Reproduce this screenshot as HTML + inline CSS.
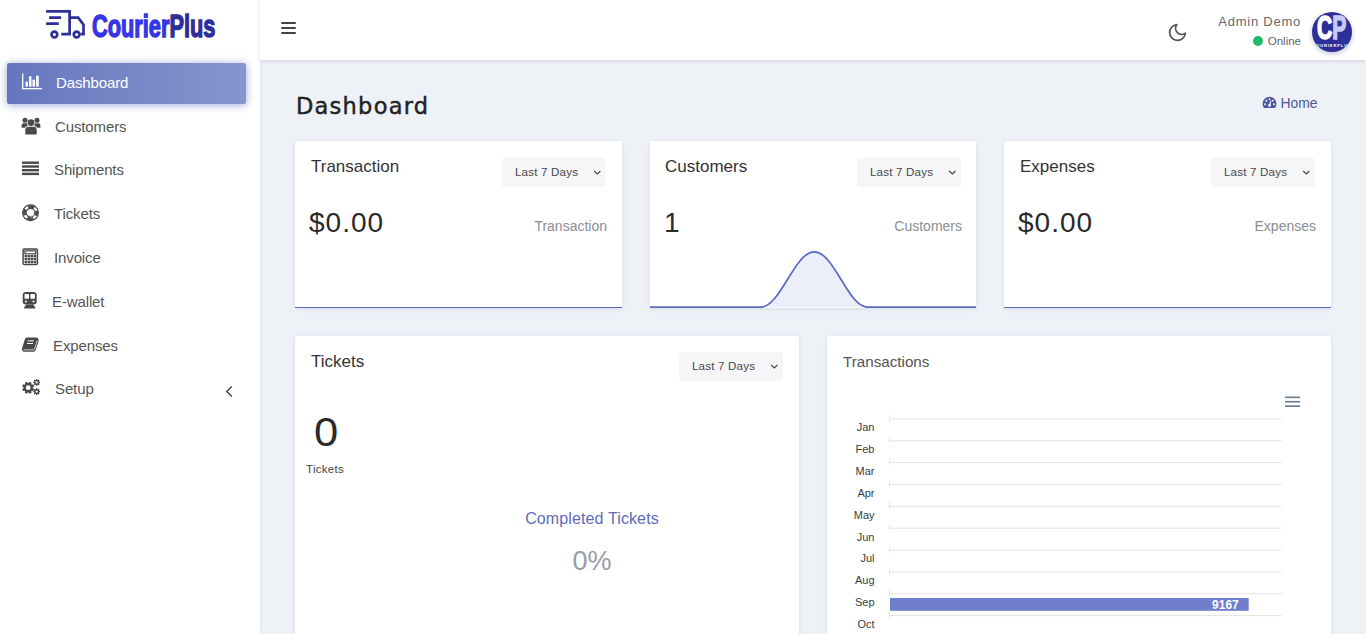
<!DOCTYPE html>
<html lang="en">
<head>
<meta charset="utf-8">
<title>Dashboard - CourierPlus</title>
<style>
*{box-sizing:border-box;margin:0;padding:0}
html,body{width:1366px;height:634px;overflow:hidden}
body{background:#eef1f6;font-family:"Liberation Sans",Arial,sans-serif;color:#333;position:relative}
.abs{position:absolute}
/* sidebar */
#sidebar{position:absolute;left:0;top:0;width:260px;height:634px;background:#fff;box-shadow:0 0 4px rgba(100,105,130,.14)}
#logo-text{position:absolute;left:91.5px;top:6.3px;font-weight:bold;font-size:32px;line-height:40px;white-space:nowrap;transform-origin:0 0;transform:scaleX(.68);color:#3535e6;-webkit-text-stroke:1.4px #3535e6}
#logo-text b{color:#2e2e99;-webkit-text-stroke:1.4px #2e2e99}
.mi{position:absolute;left:0;width:260px;height:40px;font-size:15px;letter-spacing:-.12px;color:#555;line-height:40px}
.mi span{position:absolute;top:0;white-space:nowrap}
.mi svg{position:absolute}
#active{position:absolute;left:7px;top:63px;width:239px;height:41px;border-radius:2px;background:linear-gradient(90deg,#6576bf 0%,#8796cc 100%);box-shadow:0 1px 8px rgba(92,107,192,.6)}
/* header */
#header{position:absolute;left:260px;top:0;width:1106px;height:60px;background:#fff;box-shadow:0 1px 4px rgba(100,105,125,.22)}
.bar{position:absolute;left:21px;width:15px;height:2px;background:#444;border-radius:1px}
/* cards */
.card{position:absolute;background:#fff;border-radius:3px;box-shadow:0 1px 4px rgba(110,115,140,.16)}
.ctitle{position:absolute;font-size:17px;color:#333;white-space:nowrap}
.sel{position:absolute;width:104px;height:29px;background:#f6f6f9;border-radius:3px;font-size:11.6px;letter-spacing:.18px;color:#484848;line-height:28.6px;padding-left:13.3px;white-space:nowrap;margin-left:.7px;margin-top:.5px}
.big{position:absolute;font-size:28px;color:#2a2a2a;white-space:nowrap;letter-spacing:1px}
.rl{position:absolute;font-size:14px;color:#8b8d96;white-space:nowrap;text-align:right}
.line{position:absolute;left:0;bottom:0;width:100%;height:1.4px;background:#5f69bd}
</style>
</head>
<body>

<div id="sidebar">
  <svg class="abs" style="left:46px;top:10px" width="40" height="30" viewBox="0 0 40 30" fill="none" stroke="#2e2e99" stroke-width="2.7">
    <path d="M.1 1.45H23.6V24.2H15.3"/>
    <path d="M3.1 7.6H15.1M.1 13.7H12.8"/>
    <path d="M23.6 7.7H32.2L37.5 14.7V24.2H34.6"/>
    <circle cx="8.4" cy="24.5" r="2.85"/>
    <circle cx="30.6" cy="24.5" r="2.85"/>
  </svg>
  <div id="logo-text">Courier<b>Plus</b></div>

  <div id="active"></div>

  <!-- menu icons -->
  <svg class="abs" style="left:22px;top:73px" width="21" height="17" viewBox="0 0 21 17">
    <path d="M.7 .5V15.6H20" fill="none" stroke="#fff" stroke-width="1.3"/>
    <rect x="3.5" y="8.6" width="2.4" height="5" fill="#fff"/><rect x="7" y="3.3" width="2.5" height="10.3" fill="#fff"/>
    <rect x="10.5" y="6.7" width="2.5" height="6.9" fill="#fff"/><rect x="14.1" y="2.7" width="2.6" height="10.9" fill="#fff"/>
  </svg>
  <svg class="abs" style="left:21px;top:117px" width="20" height="18" viewBox="0 0 20 18" fill="#4a4a4a">
    <circle cx="10" cy="5.6" r="3.4"/><path d="M4.3 17.3V13.2Q4.3 9.8 7.5 9.8H12.5Q15.7 9.8 15.7 13.2V17.3Q15.7 17.5 15 17.5H5Q4.3 17.5 4.3 17.3Z"/>
    <circle cx="4" cy="3.3" r="2.5"/><path d="M.6 10.6V8.4Q.6 6.3 2.6 6.3H5.6Q6.2 6.4 6.3 7.2Q6.4 8.6 7 9.1Q4.4 9.3 3.9 10.8H.9Q.6 10.8 .6 10.6Z"/>
    <circle cx="16" cy="3.3" r="2.5"/><path d="M19.4 10.6V8.4Q19.4 6.3 17.4 6.3H14.4Q13.8 6.4 13.7 7.2Q13.6 8.6 13 9.1Q15.6 9.3 16.1 10.8H19.1Q19.4 10.8 19.4 10.6Z"/>
  </svg>
  <svg class="abs" style="left:22px;top:161px" width="18" height="15" viewBox="0 0 18 15" fill="#484848">
    <rect x="0" y=".5" width="17" height="2.4"/><rect x="0" y="4.3" width="17" height="2.4"/><rect x="0" y="8" width="17" height="2.4"/><rect x="0" y="11.7" width="17" height="2.4"/>
  </svg>
  <svg class="abs" style="left:21px;top:203px" width="19" height="19" viewBox="0 0 19 19" fill="none" stroke="#484848">
    <circle cx="9.5" cy="9.7" r="7.9" stroke-width="1.2"/><circle cx="9.5" cy="9.7" r="4.3" stroke-width="1.1"/>
    <circle cx="9.5" cy="9.7" r="6.1" stroke-width="2.8" stroke-dasharray="6.2 3.382" stroke-dashoffset="3.1"/>
  </svg>
  <svg class="abs" style="left:22px;top:248px" width="17" height="18" viewBox="0 0 17 18">
    <rect x="1.1" y="1" width="14.3" height="15.4" rx="1.2" fill="none" stroke="#484848" stroke-width="1.5"/>
    <rect x="2.9" y="2.8" width="10.7" height="3" fill="none" stroke="#484848" stroke-width="1.2"/>
    <g fill="#484848"><rect x="2.6" y="7.0" width="2.5" height="2.3"/><rect x="5.6" y="7.0" width="2.5" height="2.3"/><rect x="8.6" y="7.0" width="2.5" height="2.3"/><rect x="11.6" y="7.0" width="2.5" height="2.3"/><rect x="2.6" y="9.9" width="2.5" height="2.3"/><rect x="5.6" y="9.9" width="2.5" height="2.3"/><rect x="8.6" y="9.9" width="2.5" height="2.3"/><rect x="11.6" y="9.9" width="2.5" height="2.3"/><rect x="2.6" y="12.8" width="2.5" height="2.3"/><rect x="5.6" y="12.8" width="2.5" height="2.3"/><rect x="8.6" y="12.8" width="2.5" height="2.3"/><rect x="11.6" y="12.8" width="2.5" height="2.3"/></g>
  </svg>
  <svg class="abs" style="left:22px;top:291px" width="16" height="19" viewBox="0 0 16 19">
    <path d="M.7 4.3Q.7 1 4 1H11.4Q14.7 1 14.7 4.3V10.6Q14.7 13.6 11.6 13.6H3.8Q.7 13.6 .7 10.6Z" fill="#484848"/>
    <rect x="2.5" y="3.1" width="4.5" height="4.6" rx=".6" fill="#fff"/><rect x="8.4" y="3.1" width="4.5" height="4.6" rx=".6" fill="#fff"/>
    <circle cx="3.9" cy="10.6" r="1" fill="#fff"/><circle cx="11.5" cy="10.6" r="1" fill="#fff"/>
    <path d="M4.2 13.5L2.3 16.3V17.6H13.1V16.3L11.2 13.5Z" fill="#484848"/>
  </svg>
  <svg class="abs" style="left:21px;top:337px" width="19" height="16" viewBox="0 0 19 16">
    <path d="M5.9 .6H15.4Q17 .6 17.5 2.2Q17.9 3.2 17.5 4.4L14.6 13.3Q14.2 14.7 12.7 14.7H3.4Q.5 14.7 1 11.6L3.9 2.2Q4.4 .6 5.9 .6Z" fill="#484848"/>
    <path d="M2.6 12.6Q3 12.9 3.6 12.9H12.4Q13.2 12.9 13.5 12L16.3 3.6" fill="none" stroke="#fff" stroke-width=".75"/>
    <path d="M6.7 3.9H13M6 6.5H12.1" stroke="#fff" stroke-width="1"/>
  </svg>
  <svg class="abs" style="left:22px;top:379px" width="19" height="17" viewBox="0 0 19 17">
    <path fill="#484848" fill-rule="evenodd" d="M10.88 9.18 L12.18 9.89 L11.27 12.09 L9.84 11.67 L9.17 12.34 L9.59 13.77 L7.39 14.68 L6.68 13.38 L5.72 13.38 L5.01 14.68 L2.81 13.77 L3.23 12.34 L2.56 11.67 L1.13 12.09 L0.22 9.89 L1.52 9.18 L1.52 8.22 L0.22 7.51 L1.13 5.31 L2.56 5.73 L3.23 5.06 L2.81 3.63 L5.01 2.72 L5.72 4.02 L6.68 4.02 L7.39 2.72 L9.59 3.63 L9.17 5.06 L9.84 5.73 L11.27 5.31 L12.18 7.51 L10.88 8.22Z M3.80 8.70 a2.40 2.40 0 1 0 4.80 0 a2.40 2.40 0 1 0 -4.80 0Z"/>
    <path fill="#484848" fill-rule="evenodd" d="M17.14 2.67 L18.13 2.72 L18.13 4.08 L17.14 4.13 L16.94 4.61 L17.61 5.34 L16.64 6.31 L15.91 5.64 L15.43 5.84 L15.38 6.83 L14.02 6.83 L13.97 5.84 L13.49 5.64 L12.76 6.31 L11.79 5.34 L12.46 4.61 L12.26 4.13 L11.27 4.08 L11.27 2.72 L12.26 2.67 L12.46 2.19 L11.79 1.46 L12.76 0.49 L13.49 1.16 L13.97 0.96 L14.02 -0.03 L15.38 -0.03 L15.43 0.96 L15.91 1.16 L16.64 0.49 L17.61 1.46 L16.94 2.19Z M13.55 3.40 a1.15 1.15 0 1 0 2.30 0 a1.15 1.15 0 1 0 -2.30 0Z"/>
    <path fill="#484848" fill-rule="evenodd" d="M17.14 11.87 L18.13 11.92 L18.13 13.28 L17.14 13.33 L16.94 13.81 L17.61 14.54 L16.64 15.51 L15.91 14.84 L15.43 15.04 L15.38 16.03 L14.02 16.03 L13.97 15.04 L13.49 14.84 L12.76 15.51 L11.79 14.54 L12.46 13.81 L12.26 13.33 L11.27 13.28 L11.27 11.92 L12.26 11.87 L12.46 11.39 L11.79 10.66 L12.76 9.69 L13.49 10.36 L13.97 10.16 L14.02 9.17 L15.38 9.17 L15.43 10.16 L15.91 10.36 L16.64 9.69 L17.61 10.66 L16.94 11.39Z M13.55 12.60 a1.15 1.15 0 1 0 2.30 0 a1.15 1.15 0 1 0 -2.30 0Z"/>
  </svg>
  <svg class="abs" style="left:225px;top:385px" width="9" height="13" viewBox="0 0 9 13" fill="none" stroke="#444" stroke-width="1.5"><path d="M6.8 1.5L1.8 6.5L6.8 11.5"/></svg>
  <div class="mi" style="top:63px;color:#fff"><span style="left:56px">Dashboard</span></div>
  <div class="mi" style="top:107px"><span style="left:55px">Customers</span></div>
  <div class="mi" style="top:150px"><span style="left:54px">Shipments</span></div>
  <div class="mi" style="top:194px"><span style="left:54px">Tickets</span></div>
  <div class="mi" style="top:238px"><span style="left:54px">Invoice</span></div>
  <div class="mi" style="top:282px"><span style="left:52px">E-wallet</span></div>
  <div class="mi" style="top:326px"><span style="left:53px">Expenses</span></div>
  <div class="mi" style="top:369px"><span style="left:55px">Setup</span></div>
</div>

<div id="header">
  <div class="bar" style="top:22px"></div>
  <div class="bar" style="top:27px"></div>
  <div class="bar" style="top:32px"></div>

  <svg class="abs" style="left:907px;top:21.5px" width="21" height="21" viewBox="0 0 24 24" fill="none" stroke="#555" stroke-width="2" stroke-linecap="round" stroke-linejoin="round"><path d="M21 12.79A9 9 0 1 1 11.21 3 7 7 0 0 0 21 12.79z"/></svg>
  <div class="abs" style="right:65px;top:13px;font-size:13px;letter-spacing:.75px;color:#666;white-space:nowrap;line-height:18px">Admin Demo</div>
  <div class="abs" style="left:993px;top:36px;width:10px;height:10px;border-radius:50%;background:#22b96c"></div>
  <div class="abs" style="right:65px;top:33px;font-size:11.5px;color:#666;white-space:nowrap;line-height:16px">Online</div>
  <div id="avatar" class="abs" style="left:1052px;top:12px;width:40px;height:40px;border-radius:50%;background:#2e2e99;overflow:hidden;box-shadow:0 2px 5px rgba(60,60,120,.3)">
    <div class="abs" style="left:5px;top:-2px;font-weight:bold;font-size:33px;line-height:36px;white-space:nowrap;transform-origin:0 0;transform:scaleX(.64);color:#fff;-webkit-text-stroke:1.6px #fff">C<span style="color:#c9c9f7;-webkit-text-stroke:1.6px #c9c9f7">P</span></div>
    <div class="abs" style="left:0px;top:30.5px;width:40px;text-align:center;font-weight:bold;font-size:4px;line-height:6px;letter-spacing:.9px;color:#fff;white-space:nowrap">COURIERPLUS</div>
  </div>
</div>

<div id="h1" class="abs" style="left:296px;top:91.2px;font-family:'DejaVu Sans','Liberation Sans',sans-serif;font-size:22.5px;letter-spacing:1.25px;color:#222;-webkit-text-stroke:.45px #222;white-space:nowrap;line-height:30px">Dashboard</div>


<svg class="abs" style="left:1262px;top:96px" width="15" height="13" viewBox="0 0 15 13"><path d="M7.5 .8A6.9 6.9 0 0 0 .6 7.7Q.6 9.9 1.7 11.6Q1.9 11.9 2.3 11.9H12.7Q13.1 11.9 13.3 11.6Q14.4 9.9 14.4 7.7A6.9 6.9 0 0 0 7.5 .8Z" fill="#4f5ba0"/><g fill="#eef1f6"><circle cx="3" cy="8.2" r=".95"/><circle cx="4.3" cy="4.7" r=".95"/><circle cx="7.5" cy="3.2" r=".95"/><circle cx="10.7" cy="4.7" r=".95"/><circle cx="12" cy="8.2" r=".95"/><circle cx="7.5" cy="9.3" r="1.5"/><path d="M6.9 9L8.6 4.6L9.4 4.9L8.1 9.4Z"/></g></svg>
<div class="abs" style="left:1280.4px;top:93.8px;font-size:13.9px;color:#4c5694;white-space:nowrap;line-height:18px">Home</div>

<!-- row 1 -->
<div class="card" style="left:295px;top:141px;width:327px;height:167px">
  <div class="ctitle" style="left:16px;top:16px">Transaction</div>
  <div class="sel" style="left:206px;top:16px">Last 7 Days<svg class="abs" style="left:91px;top:12.3px" width="9" height="6" viewBox="0 0 9 6" fill="none" stroke="#444" stroke-width="1.15"><path d="M1.2 1L4.3 4L7.4 1"/></svg></div>
  <div class="big" style="left:14px;top:66px">$0.00</div>
  <div class="rl" style="right:15px;top:77px">Transaction</div>
  <div class="line"></div>
</div>
<div class="card" style="left:650px;top:141px;width:326px;height:167px">
  <div class="ctitle" style="left:15px;top:16px">Customers</div>
  <div class="sel" style="left:206px;top:16px">Last 7 Days<svg class="abs" style="left:91px;top:12.3px" width="9" height="6" viewBox="0 0 9 6" fill="none" stroke="#444" stroke-width="1.15"><path d="M1.2 1L4.3 4L7.4 1"/></svg></div>
  <div class="big" style="left:14px;top:66px">1</div>
  <div class="rl" style="right:14px;top:77px">Customers</div>
  <svg class="abs" style="left:0;top:0" width="326" height="167" viewBox="0 0 326 167"><path d="M110.6 166.2C130.5 166.2 144.4 110.8 164.3 110.8C184.2 110.8 197.9 166.2 217.8 166.2Z" fill="#eceefa"/><path d="M0 166.2L110.6 166.2C130.5 166.2 144.4 110.8 164.3 110.8C184.2 110.8 197.9 166.2 217.8 166.2H326" fill="none" stroke="#5c6bc0" stroke-width="1.75"/></svg>
</div>
<div class="card" style="left:1004px;top:141px;width:327px;height:167px">
  <div class="ctitle" style="left:16px;top:16px">Expenses</div>
  <div class="sel" style="left:206px;top:16px">Last 7 Days<svg class="abs" style="left:91px;top:12.3px" width="9" height="6" viewBox="0 0 9 6" fill="none" stroke="#444" stroke-width="1.15"><path d="M1.2 1L4.3 4L7.4 1"/></svg></div>
  <div class="big" style="left:14px;top:66px">$0.00</div>
  <div class="rl" style="right:15px;top:77px">Expenses</div>
  <div class="line"></div>
</div>

<!-- row 2 -->
<div class="card" style="left:295px;top:336px;width:504px;height:320px">
  <div class="ctitle" style="left:16px;top:15.5px">Tickets</div>
  <div class="sel" style="left:383px;top:15px">Last 7 Days<svg class="abs" style="left:91px;top:12.3px" width="9" height="6" viewBox="0 0 9 6" fill="none" stroke="#444" stroke-width="1.15"><path d="M1.2 1L4.3 4L7.4 1"/></svg></div>
  <div class="abs" style="left:15.8px;top:73px;width:30px;text-align:center;font-size:41.5px;line-height:46px;color:#2a2a2a;transform:scaleX(1.05)">0</div>
  <div class="abs" style="left:11px;top:125px;font-size:11.5px;letter-spacing:.3px;line-height:16px;color:#444;white-space:nowrap">Tickets</div>
  <div class="abs" style="left:197px;top:173px;width:200px;text-align:center;font-size:16px;letter-spacing:.12px;line-height:20px;color:#5e6bb8;white-space:nowrap">Completed Tickets</div>
  <div class="abs" style="left:247px;top:209px;width:100px;text-align:center;font-size:27px;line-height:32px;color:#9b9da6;white-space:nowrap">0%</div>
</div>
<div class="card" style="left:827px;top:336px;width:504px;height:320px">
  <div class="abs" style="left:16px;top:16px;font-size:15.2px;line-height:20px;color:#555;white-space:nowrap">Transactions</div>
  <svg class="abs" style="left:0;top:0" width="504" height="298" viewBox="0 0 504 298" font-family="Liberation Sans, Arial, sans-serif">
<g stroke="#e2e2e2" stroke-width="1"><path d="M62.0 82.90H454.5"/><path d="M62.0 104.76H454.5"/><path d="M62.0 126.62H454.5"/><path d="M62.0 148.48H454.5"/><path d="M62.0 170.34H454.5"/><path d="M62.0 192.20H454.5"/><path d="M62.0 214.06H454.5"/><path d="M62.0 235.92H454.5"/><path d="M62.0 257.78H454.5"/><path d="M62.0 279.64H454.5"/></g>
<g stroke="#e6e6e6" stroke-width="1"><path d="M62.5 78.90V85.40"/><path d="M62.5 100.76V107.26"/><path d="M62.5 122.62V129.12"/><path d="M62.5 144.48V150.98"/><path d="M62.5 166.34V172.84"/><path d="M62.5 188.20V194.70"/><path d="M62.5 210.06V216.56"/><path d="M62.5 231.92V238.42"/><path d="M62.5 253.78V260.28"/><path d="M62.5 275.64V282.14"/></g>
<rect x="63.0" y="262.0" width="358.7" height="12.8" fill="#6f7fcb"/>
<g font-size="11" fill="#373d3f" text-anchor="end"><text x="47.5" y="95.20">Jan</text><text x="47.5" y="117.06">Feb</text><text x="47.5" y="138.92">Mar</text><text x="47.5" y="160.78">Apr</text><text x="47.5" y="182.64">May</text><text x="47.5" y="204.50">Jun</text><text x="47.5" y="226.36">Jul</text><text x="47.5" y="248.22">Aug</text><text x="47.5" y="270.08">Sep</text><text x="47.5" y="291.94">Oct</text></g>
<text x="411.8" y="273.0" font-size="12" font-weight="bold" fill="#fff" text-anchor="end">9167</text>
<g fill="#6e8192"><rect x="458" y="60.5" width="15.2" height="1.7"/><rect x="458" y="64.9" width="15.2" height="1.7"/><rect x="458" y="69.3" width="15.2" height="1.7"/></g>
</svg>
</div>

</body>
</html>
